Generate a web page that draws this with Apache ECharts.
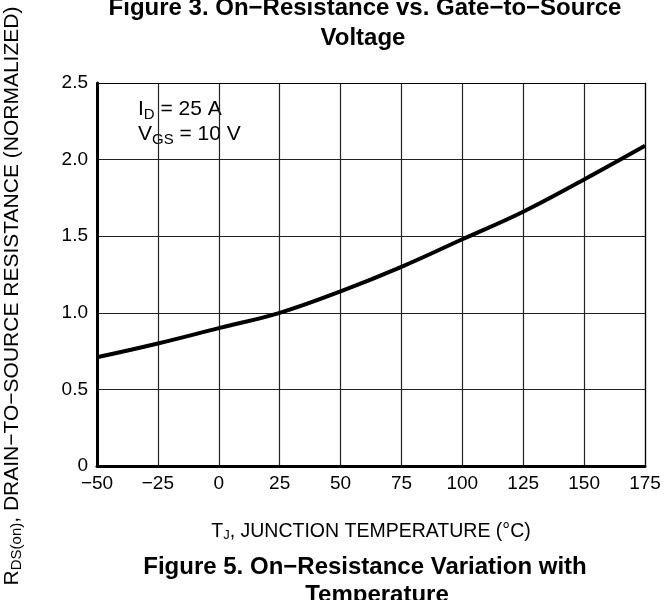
<!DOCTYPE html>
<html>
<head>
<meta charset="utf-8">
<script src="https://cdn.jsdelivr.net/npm/echarts@6/dist/echarts.min.js"></script>
<style>
html,body{margin:0;padding:0;background:#fff;}
#main{width:666px;height:600px;}
</style>
</head>
<body>
<div id="main"></div>
<script>
// ---- data ----
var temperatures = [-50, -25, 0, 25, 50, 75, 100, 125, 150, 175];
var resistanceNorm = [0.71, 0.80, 0.90, 1.00, 1.14, 1.30, 1.48, 1.66, 1.87, 2.09];
var xTicks = { min: -50, max: 175, interval: 25 };
var yTicks = { min: 0, max: 2.5, interval: 0.5 };

var FONT = '"Liberation Sans", Arial, Helvetica, sans-serif';
var seriesData = temperatures.map(function (t, i) { return [t, resistanceNorm[i]]; });

var chart = echarts.init(document.getElementById('main'), null, { renderer: 'canvas' });

function fmtX(v) { return v < 0 ? '\u2212' + Math.abs(v) : String(v); }
function fmtY(v) { return v === 0 ? '0' : v.toFixed(1); }

var titleStyle = { fontFamily: FONT, fontSize: 24, fontWeight: 'bold', color: '#000' };

var option = {
  animation: false,
  backgroundColor: '#ffffff',
  textStyle: { fontFamily: FONT, color: '#000' },
  title: [
    { text: 'Figure 3. On\u2212Resistance vs. Gate\u2212to\u2212Source', left: 360, top: -9, textAlign: 'center', textStyle: titleStyle },
    { text: 'Voltage', left: 358, top: 21, textAlign: 'center', textStyle: titleStyle },
    { text: 'Figure 5. On\u2212Resistance Variation with', left: 360, top: 550, textAlign: 'center', textStyle: titleStyle },
    { text: 'Temperature', left: 372, top: 578, textAlign: 'center', textStyle: titleStyle }
  ],
  grid: { left: 97, top: 83, right: 21, bottom: 134, containLabel: false },
  xAxis: [
    {
      type: 'value', min: xTicks.min, max: xTicks.max, interval: xTicks.interval,
      position: 'bottom',
      axisLine: { show: true, onZero: false, lineStyle: { color: '#000', width: 3 } },
      axisTick: { show: false },
      axisLabel: { formatter: fmtX, fontFamily: FONT, fontSize: 19, color: '#000', margin: 8 },
      splitLine: { show: true, lineStyle: { color: '#222', width: 1.2 } },
      name: '{m|T}{s|J}{m|, JUNCTION TEMPERATURE (\u00B0C)}',
      nameLocation: 'middle', nameGap: 55,
      nameTextStyle: {
        rich: {
          m: { fontFamily: FONT, fontSize: 19.5, color: '#000' },
          s: { fontFamily: FONT, fontSize: 13, color: '#000', verticalAlign: 'bottom', padding: [8, 0, 0, 0] }
        }
      }
    },
    {
      type: 'value', min: xTicks.min, max: xTicks.max, interval: xTicks.interval,
      position: 'top',
      axisLine: { show: true, onZero: false, lineStyle: { color: '#000', width: 1.2 } },
      axisTick: { show: false }, axisLabel: { show: false }, splitLine: { show: false }
    }
  ],
  yAxis: [
    {
      type: 'value', min: yTicks.min, max: yTicks.max, interval: yTicks.interval,
      position: 'left',
      axisLine: { show: true, onZero: false, lineStyle: { color: '#000', width: 3 } },
      axisTick: { show: false },
      axisLabel: { formatter: fmtY, fontFamily: FONT, fontSize: 19, color: '#000', margin: 9 },
      splitLine: { show: true, lineStyle: { color: '#222', width: 1.2 } }
    },
    {
      type: 'value', min: yTicks.min, max: yTicks.max, interval: yTicks.interval,
      position: 'right',
      axisLine: { show: true, onZero: false, lineStyle: { color: '#000', width: 1.2 } },
      axisTick: { show: false }, axisLabel: { show: false }, splitLine: { show: false }
    }
  ],
  graphic: [
    {
      type: 'text', left: 138, top: 99,
      style: {
        text: '{m|I}{s|D}{m| = 25 A}',
        rich: {
          m: { fontFamily: FONT, fontSize: 21, fill: '#000' },
          s: { fontFamily: FONT, fontSize: 15, fill: '#000', padding: [10, 0, 0, 0] }
        }
      }
    },
    {
      type: 'text', left: 138, top: 124,
      style: {
        text: '{m|V}{s|GS}{m| = 10 V}',
        rich: {
          m: { fontFamily: FONT, fontSize: 21, fill: '#000' },
          s: { fontFamily: FONT, fontSize: 15, fill: '#000', padding: [10, 0, 0, 0] }
        }
      }
    },
    {
      type: 'text', x: 12, y: 296, rotation: Math.PI / 2,
      style: {
        text: '{m|R}{s|DS(on)}{m|, DRAIN\u2212TO\u2212SOURCE RESISTANCE (NORMALIZED)}',
        align: 'center', verticalAlign: 'middle',
        rich: {
          m: { fontFamily: FONT, fontSize: 21, fill: '#000' },
          s: { fontFamily: FONT, fontSize: 15, fill: '#000', padding: [9, 0, 0, 0] }
        }
      }
    }
  ],
  series: [
    {
      type: 'line',
      xAxisIndex: 0, yAxisIndex: 0,
      data: seriesData,
      smooth: 0.4,
      showSymbol: false,
      lineStyle: { color: '#000', width: 4 },
      z: 5
    }
  ]
};

chart.setOption(option);
</script>
</body>
</html>
